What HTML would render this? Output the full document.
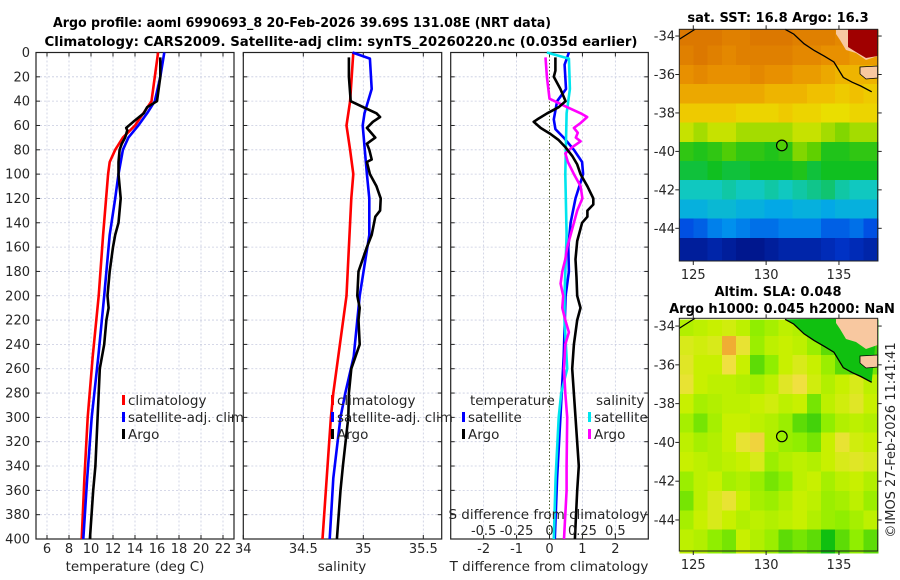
<!DOCTYPE html>
<html><head><meta charset="utf-8"><style>
html,body{margin:0;padding:0;background:#fff;}
svg{display:block;font-family:"DejaVu Sans","Liberation Sans",sans-serif;}
</style></head><body>
<svg id="fig" width="900" height="580" viewBox="0 0 900 580" xmlns="http://www.w3.org/2000/svg">
<text x="302" y="27" font-size="13" font-weight="bold" text-anchor="middle" textLength="498" lengthAdjust="spacingAndGlyphs" fill="#000">Argo profile: aoml 6990693_8 20-Feb-2026 39.69S 131.08E (NRT data)</text>
<text x="341" y="46" font-size="13" font-weight="bold" text-anchor="middle" textLength="593" lengthAdjust="spacingAndGlyphs" fill="#000">Climatology: CARS2009. Satellite-adj clim: synTS_20260220.nc (0.035d earlier)</text>
<g id="g"></g>
</svg>
<script>
// ---------- profile data ----------
var tClimDepth=[0,20,40,50,60,70,80,90,100,150,200,250,300,350,400];
var tClimVal=[16.1,15.8,15.5,14.75,14.0,12.9,12.2,11.7,11.55,11.1,10.7,10.15,9.7,9.4,9.15];
var tSatDepth=[0,20,40,50,60,70,80,100,120,150,200,250,300,350,400];
var tSatVal=[16.66,16.3,15.8,15.1,14.3,13.4,12.9,12.5,12.2,11.7,11.2,10.66,10.06,9.65,9.3];
var tArgoDepth=[4,20,40,45,50,57,62,64,70,75,80,90,100,120,130,140,150,160,180,200,210,220,240,260,300,340,360,400];
var tArgoVal=[16.3,16.3,16.0,15.1,14.8,13.85,13.2,13.3,13.1,12.8,12.6,12.5,12.5,12.7,12.6,12.5,12.2,12.0,11.7,11.5,11.6,11.4,11.2,10.8,10.6,10.4,10.2,9.9];
var sClimDepth=[0,40,60,80,100,120,200,280,300,350,400];
var sClimVal=[34.917,34.89,34.86,34.89,34.917,34.90,34.86,34.75,34.73,34.695,34.66];
var sSatDepth=[0,5,30,50,60,100,120,150,200,250,280,300,350,400];
var sSatVal=[34.91,35.055,35.07,35.01,34.995,35.03,35.05,35.05,34.97,34.92,34.85,34.81,34.75,34.72];
var sArgoDepth=[4,20,40,45,50,53,57,62,70,75,80,88,90,100,110,120,130,135,150,160,180,200,210,220,240,260,280,300,340,360,400];
var sArgoVal=[34.88,34.88,34.895,35.0,35.11,35.14,35.08,35.03,35.10,35.03,35.05,35.07,35.03,35.055,35.11,35.145,35.14,35.10,35.07,35.03,34.96,34.95,34.97,34.96,34.97,34.9,34.88,34.875,34.83,34.81,34.78];
var dTSatDepth=[0,10,30,40,55,63,70,80,90,100,120,140,160,180,200,250,300,350,400];
var dTSatVal=[0.59,0.46,0.5,0.23,0.13,0.18,0.43,0.74,0.99,1.02,0.79,0.64,0.57,0.59,0.49,0.43,0.33,0.23,0.16];
var dTArgoDepth=[4,15,20,30,40,45,50,55,57,62,67,72,78,85,92,100,110,120,125,130,135,140,155,170,185,200,210,220,240,260,300,340,360,400];
var dTArgoVal=[0.18,0.18,0.13,0.33,0.49,0.28,-0.07,-0.37,-0.48,-0.27,0.03,0.28,0.49,0.69,0.84,0.94,1.15,1.33,1.33,1.15,1.15,0.99,0.84,0.79,0.82,0.84,0.94,0.84,0.74,0.69,0.79,0.89,0.84,0.77];
var dSSatDepth=[0,5,30,50,100,150,200,220,260,280,300,350,400];
var dSSatVal=[-0.02,0.147,0.155,0.13,0.12,0.13,0.114,0.114,0.134,0.089,0.07,0.046,0.033];
var dSArgoDepth=[4,20,38,45,50,53,58,62,66,70,73,78,83,90,100,110,120,130,140,150,160,170,180,190,200,210,220,230,240,260,280,300,340,360,400];
var dSArgoVal=[-0.03,-0.02,0,0.134,0.236,0.286,0.236,0.185,0.215,0.2,0.236,0.17,0.12,0.14,0.185,0.236,0.25,0.21,0.185,0.16,0.134,0.12,0.097,0.084,0.104,0.097,0.12,0.147,0.12,0.11,0.12,0.134,0.13,0.13,0.11];
var depthTicks=[0,20,40,60,80,100,120,140,160,180,200,220,240,260,280,300,320,340,360,380,400];
var tTicks=[6,8,10,12,14,16,18,20,22];
var sTicks=[34,34.5,35,35.5];
var dTTicks=[-2,-1,0,1,2];
var dSTicks=[-0.5,-0.25,0,0.25,0.5];
// ---------- map data ----------
var sstLatEdges=[-33.65,-34.5,-35.5,-36.5,-37.5,-38.5,-39.5,-40.5,-41.5,-42.5,-43.5,-44.5,-45.7];
var sstGrid=[
[17.9,17.9,17.9,17.8,17.8,17.9,17.9,17.9,17.8,17.8,17.8,17.7,17.7,17.7],
[17.8,17.9,17.8,17.7,17.8,17.8,17.8,17.8,17.7,17.7,17.6,17.6,17.5,17.5],
[17.6,17.7,17.6,17.6,17.6,17.7,17.6,17.6,17.5,17.5,17.4,17.3,17.3,17.3],
[17.4,17.4,17.4,17.4,17.4,17.4,17.3,17.3,17.3,17.2,17.2,17.1,17.2,17.1],
[17.1,17.1,17.1,17.1,17.0,17.0,17.0,17.1,17.0,17.0,16.9,16.9,17.0,17.0],
[16.7,16.6,16.7,16.7,16.6,16.6,16.6,16.6,16.7,16.7,16.6,16.5,16.6,16.6],
[16.1,16.0,16.1,16.3,16.1,16.1,16.0,16.1,16.5,16.4,16.0,16.0,16.1,16.1],
[15.8,15.8,15.9,15.8,15.8,15.9,15.9,15.9,16.0,15.8,15.9,15.9,15.9,15.9],
[15.3,15.3,15.3,15.4,15.3,15.3,15.4,15.3,15.4,15.5,15.6,15.4,15.3,15.3],
[15.0,15.0,15.1,15.1,15.0,15.0,14.9,14.9,15.0,15.0,14.9,15.0,15.0,15.0],
[14.3,14.4,14.6,14.7,14.6,14.5,14.5,14.6,14.6,14.6,14.4,14.4,14.5,14.3],
[13.7,13.7,13.8,13.7,13.6,13.6,13.7,13.8,13.8,13.8,13.9,14.0,13.9,13.8]];
var slaGrid=[
[.08,.09,.1,.11,.09,.05,.07,.09,.08,.04,.02,.02,.02,.02],
[.12,.11,.12,.19,.14,.06,.09,.1,.09,.06,.03,.02,.02,.02],
[.13,.1,.1,.15,.1,.03,.05,.1,.12,.1,.06,.03,.02,.04],
[.14,.1,.09,.09,.08,.07,.09,.13,.15,.11,.08,.1,.12,.09],
[.1,.07,.08,.09,.09,.1,.11,.09,.1,.04,.09,.11,.13,.1],
[.07,.04,.07,.1,.1,.09,.08,.06,.03,.02,.05,.08,.09,.08],
[.09,.07,.08,.1,.14,.16,.08,.06,.05,.04,.1,.14,.11,.1],
[.1,.09,.08,.09,.1,.12,.06,.08,.09,.08,.1,.12,.13,.12],
[.06,.09,.1,.07,.08,.06,.04,.05,.09,.1,.07,.09,.1,.08],
[.04,.09,.12,.14,.1,.07,.06,.08,.1,.09,.06,.07,.09,.06],
[.07,.1,.12,.1,.08,.09,.08,.09,.1,.08,.06,.05,.07,.09],
[.09,.08,.05,.04,.1,.08,.06,.03,.04,.03,.0,.03,.05,.03]];
var argoLon=131.08, argoLat=-39.69;
var lonTicks=[125,130,135];
var latTicks=[-34,-36,-38,-40,-42,-44];
var coastLon=[131.3,131.9,132.6,133.3,134.0,134.65,135.3,135.9,136.5,137.25];
var coastLat=[-33.65,-33.9,-34.4,-34.75,-35.05,-35.35,-36.15,-36.4,-36.6,-36.9];

var NS="http://www.w3.org/2000/svg";
var G=document.getElementById('g');
function el(tag,attrs,parent){var e=document.createElementNS(NS,tag);for(var k in attrs)e.setAttribute(k,attrs[k]);(parent||G).appendChild(e);return e;}
var TXT="#262626";
// y axis for profiles
var Y0=52.5,Y1=539;
function yD(d){return Y0+d*(Y1-Y0)/400;}
var panels=[
 {x0:36,x1:234,lo:5,hi:23},
 {x0:243.3,x1:441.7,lo:34,hi:35.6533},
 {x0:450.7,x1:648.3,lo:-3,hi:3}];
function xs(p,v){return p.x0+(v-p.lo)*(p.x1-p.x0)/(p.hi-p.lo);}
function xS3(s){return xs(panels[2],s*4);}
var panelNames=['temperature-panel','salinity-panel','difference-panel'];
var gridX=[tTicks,[34.5,35,35.5],dTTicks];
panels.forEach(function(p,i){
  var pg=el('g',{});
  
  
  depthTicks.forEach(function(d){
    var l=el('line',{x1:p.x0,x2:p.x1,y1:yD(d),y2:yD(d),stroke:'#c8cce0','stroke-width':0.8,'stroke-dasharray':'2,2'},pg);
    
    
    el('line',{x1:p.x0,x2:p.x0+4,y1:yD(d),y2:yD(d),stroke:'#222','stroke-width':1},pg);
    el('line',{x1:p.x1-4,x2:p.x1,y1:yD(d),y2:yD(d),stroke:'#222','stroke-width':1},pg);
  });
  gridX[i].forEach(function(v){
    var X=xs(p,v);
    var zero=(i==2&&v==0);
    var l=el('line',{x1:X,x2:X,y1:Y0,y2:Y1,stroke:zero?'#4a5a2a':'#c8cce0','stroke-width':zero?1:0.8,'stroke-dasharray':zero?'1.5,2':'2,2'},pg);
    
    
  });
  var ticks=i==0?tTicks:(i==1?sTicks:dTTicks);
  ticks.forEach(function(v){
    var X=xs(p,v);
    el('line',{x1:X,x2:X,y1:Y1,y2:Y1-4,stroke:'#222'},pg);
    el('line',{x1:X,x2:X,y1:Y0,y2:Y0+4,stroke:'#222'},pg);
    var t=el('text',{x:X,y:553,'font-size':13,'text-anchor':'middle',fill:TXT},pg);
    t.textContent=String(v);
    
    
  });
  var r=el('rect',{x:p.x0,y:Y0,width:p.x1-p.x0,height:Y1-Y0,fill:'none',stroke:'#222','stroke-width':1.2},pg);
  
  
  p.g=pg;
});
depthTicks.forEach(function(d){
  var t=el('text',{x:30,y:yD(d)+4.5,'font-size':13,'text-anchor':'end',fill:TXT});
  t.textContent=String(d);
  
  
});
function xlabel(x,s,name){var t=el('text',{x:x,y:571,'font-size':13.5,'text-anchor':'middle',fill:TXT});t.textContent=s;}
xlabel(135,'temperature (deg C)','temperature-axis-title');
xlabel(342,'salinity','salinity-axis-title');
xlabel(549,'T difference from climatology','t-difference-axis-title');
// S-difference top axis inside panel 3
var st=el('text',{x:548,y:519,'font-size':13.5,'text-anchor':'middle',fill:TXT});
st.textContent='S difference from climatology';


dSTicks.forEach(function(v){
  var t=el('text',{x:xS3(v),y:535,'font-size':13,'text-anchor':'middle',fill:TXT});
  t.textContent=String(v);
  
  
});
function line(pg,depths,vals,fx,color,name){
  var pts=depths.map(function(d,k){return fx(vals[k]).toFixed(1)+','+yD(d).toFixed(1);}).join(' ');
  var l=el('polyline',{points:pts,fill:'none',stroke:color,'stroke-width':2.6,'stroke-linejoin':'round'},pg);
  
  
}
var P=panels;
line(P[0].g,tClimDepth,tClimVal,function(v){return xs(P[0],v);},'#ff0000','temperature-climatology-line');
line(P[0].g,tSatDepth,tSatVal,function(v){return xs(P[0],v);},'#0000ff','temperature-satellite-line');
line(P[0].g,tArgoDepth,tArgoVal,function(v){return xs(P[0],v);},'#000000','temperature-argo-line');
line(P[1].g,sClimDepth,sClimVal,function(v){return xs(P[1],v);},'#ff0000','salinity-climatology-line');
line(P[1].g,sSatDepth,sSatVal,function(v){return xs(P[1],v);},'#0000ff','salinity-satellite-line');
line(P[1].g,sArgoDepth,sArgoVal,function(v){return xs(P[1],v);},'#000000','salinity-argo-line');
line(P[2].g,dTSatDepth,dTSatVal,function(v){return xs(P[2],v);},'#0000ff','t-diff-satellite-line');
line(P[2].g,dSSatDepth,dSSatVal,xS3,'#00e5ee','s-diff-satellite-line');
line(P[2].g,dSArgoDepth,dSArgoVal,xS3,'#ff00ff','s-diff-argo-line');
line(P[2].g,dTArgoDepth,dTArgoVal,function(v){return xs(P[2],v);},'#000000','t-diff-argo-line');
// legends
function legend(x,y,color,label,name){
  var g=el('g',{});
  
  
  el('rect',{x:x,y:y-10,width:3,height:10,fill:color},g);
  var t=el('text',{x:x+6,y:y,'font-size':13.5,fill:TXT},g);t.textContent=label;
}
legend(122,405,'#ff0000','climatology','legend-climatology');
legend(122,422,'#0000ff','satellite-adj. clim','legend-satellite-adj');
legend(122,439,'#000000','Argo','legend-argo');
legend(331,405,'#ff0000','climatology','legend-s-climatology');
legend(331,422,'#0000ff','satellite-adj. clim','legend-s-satellite-adj');
legend(331,439,'#000000','Argo','legend-s-argo');
var tt=el('text',{x:470,y:405,'font-size':13.5,fill:TXT});tt.textContent='temperature';

legend(462,422,'#0000ff','satellite','legend-t-satellite');
legend(462,439,'#000000','Argo','legend-t-argo');
var ts=el('text',{x:596,y:405,'font-size':13.5,fill:TXT});ts.textContent='salinity';

legend(588,422,'#00e5ee','satellite','legend-s-satellite');
legend(588,439,'#ff00ff','Argo','legend-s-argo-diff');

// ---------- maps ----------
var MX0=679.3,MX1=877.7,LON0=124.04,LON1=137.66;
function mx(lon){return MX0+(lon-LON0)*(MX1-MX0)/(LON1-LON0);}
function interpColor(stops,v){
  if(v<=stops[0][0])return stops[0][1];
  for(var i=1;i<stops.length;i++){if(v<=stops[i][0]){var a=stops[i-1],b=stops[i],f=(v-a[0])/(b[0]-a[0]);
    var c1=a[1],c2=b[1];return 'rgb('+[0,1,2].map(function(k){return Math.round(c1[k]+(c2[k]-c1[k])*f);}).join(',')+')';}}
  return stops[stops.length-1][1];
}
function rgb(c){return Array.isArray(c)?'rgb('+c.join(',')+')':c;}
var sstStops=[[13.5,[0,16,128]],[14.2,[0,64,224]],[14.8,[0,160,240]],[15.3,[16,200,192]],[15.9,[16,192,32]],[16.4,[96,208,0]],[16.8,[232,232,0]],[17.2,[240,192,0]],[17.6,[232,144,0]],[18.0,[216,112,0]]];
var slaStops=[[0.0,[16,192,16]],[0.05,[144,238,0]],[0.1,[200,240,0]],[0.15,[240,224,64]],[0.2,[240,160,48]]];
function drawMap(name,top,bot,latTop,latBot,grid,stops,title1,title2){
  var mg=el('g',{});
  
  
  function my(lat){return top+(latTop-lat)*(bot-top)/(latTop-latBot);}
  var nc=grid[0].length, cw=(MX1-MX0)/nc;
  grid.forEach(function(row,r){
    var ya=my(sstLatEdges[r]),yb=my(sstLatEdges[r+1]);
    row.forEach(function(v,c){
      var cell=el('rect',{x:(MX0+c*cw).toFixed(2),y:ya.toFixed(2),width:(cw+0.6).toFixed(2),height:(yb-ya+0.6).toFixed(2),fill:rgb(interpColor(stops,v)),'shape-rendering':'crispEdges'},mg);
      
      
    });
  });
  var cpts=coastLon.map(function(lo,k){return mx(lo).toFixed(1)+','+my(coastLat[k]).toFixed(1);});
  if(name=='sla-map'){
    var ne=el('polygon',{points:cpts.join(' ')+' '+MX1+','+top,fill:'#10c010'},mg);
    
  }
  var o=top-29.3;
  var land=el('polygon',{points:[[836,29.3],[877.7,29.3],[877.7,56],[866,60],[856,53],[846,50],[840,40],[836,34]].map(function(p){return p[0]+','+(p[1]+o);}).join(' '),fill:'#f8c8a0'},mg);
  
  if(name=='sst-map'){
    var dr=el('polygon',{points:'848,29.3 877.7,29.3 877.7,56 866,58 856,52 848,47',fill:'#a00000'},mg);
    
  }
  var pl=el('polygon',{points:[[860,67],[877.7,66],[877.7,78],[866,79],[860,74]].map(function(p){return p[0]+','+(p[1]+o);}).join(' '),fill:'#f8c8a0',stroke:'#000','stroke-width':0.8},mg);
  
  var cl=el('polyline',{points:cpts.join(' '),fill:'none',stroke:'#000','stroke-width':1.3},mg);
  
  el('line',{x1:MX0,y1:39.3+o,x2:695,y2:top,stroke:'#000','stroke-width':1.2},mg);
  var mk=el('circle',{cx:mx(argoLon),cy:my(argoLat),r:5.3,fill:name=='sst-map'?rgb(interpColor(stops,16.3)):'none',stroke:'#000','stroke-width':1.2},mg);
  
  var fr=el('rect',{x:MX0,y:top,width:MX1-MX0,height:bot-top,fill:'none',stroke:'#222','stroke-width':1},mg);
  
  latTicks.forEach(function(l){
    var y=my(l);
    el('line',{x1:MX0-4,x2:MX0,y1:y,y2:y,stroke:'#222'},mg);
    el('line',{x1:MX1,x2:MX1+4,y1:y,y2:y,stroke:'#222'},mg);
    var t=el('text',{x:675,y:y+4.5,'font-size':13,'text-anchor':'end',fill:TXT},mg);
    t.textContent=String(l);
    
  });
  lonTicks.forEach(function(l){
    var x=mx(l);
    el('line',{x1:x,x2:x,y1:bot,y2:bot+4,stroke:'#222'},mg);
    el('line',{x1:x,x2:x,y1:top-4,y2:top,stroke:'#222'},mg);
    var t=el('text',{x:x,y:bot+18,'font-size':13,'text-anchor':'middle',fill:TXT},mg);
    t.textContent=String(l);
    
  });
  return mg;
}
drawMap('sst-map',29.3,261,-33.65,-45.7,sstGrid,sstStops);
drawMap('sla-map',318.3,551,-33.6,-45.6,slaGrid,slaStops);
function title(x,y,s,name){var t=el('text',{x:x,y:y,'font-size':13,'font-weight':'bold','text-anchor':'middle',fill:'#000'});t.textContent=s;}
title(778,22,'sat. SST: 16.8 Argo: 16.3','sst-map-title');
title(778,296,'Altim. SLA: 0.048','sla-map-title');
title(782,313,'Argo h1000: 0.045 h2000: NaN','sla-map-subtitle');
var cp=el('text',{x:0,y:0,'font-size':13,'text-anchor':'middle',fill:TXT,transform:'translate(895,440) rotate(-90)'});
cp.textContent='©IMOS 27-Feb-2026 11:41:41';


</script>
</body></html>
